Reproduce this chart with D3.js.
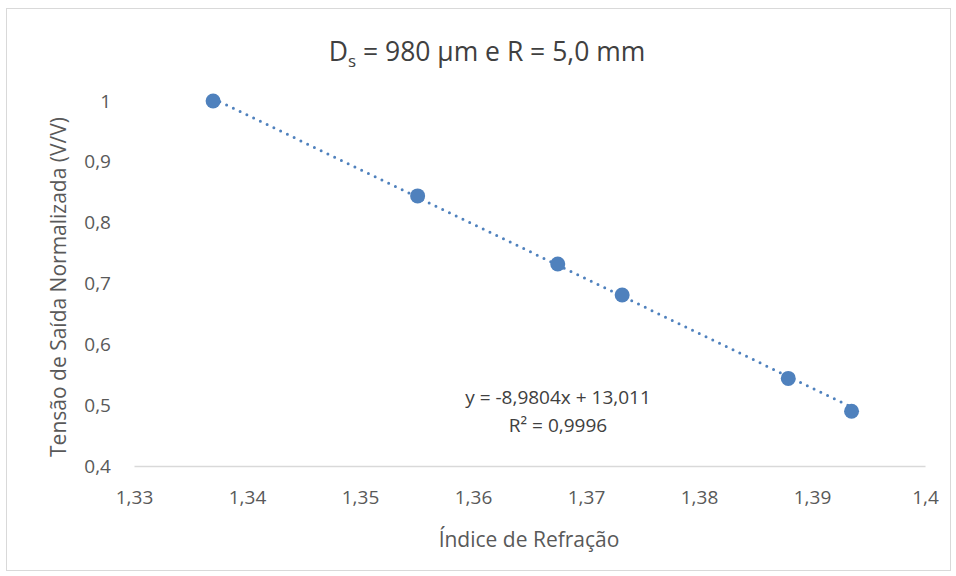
<!DOCTYPE html>
<html>
<head>
<meta charset="utf-8">
<script src="https://cdn.jsdelivr.net/npm/d3@7"></script>
<style>
  body { margin: 0; background: #fff; }
  text { font-family: "Open Sans", Lato, sans-serif; }
</style>
</head>
<body>
<div id="chart"></div>
<script>
"use strict";

// Data
var indices = [1.337, 1.3551, 1.3675, 1.3732, 1.3879, 1.3935];
var tensoes = [1.0, 0.844, 0.732, 0.681, 0.544, 0.490];
var xTicks = [1.33, 1.34, 1.35, 1.36, 1.37, 1.38, 1.39, 1.4];
var yTicks = [0.4, 0.5, 0.6, 0.7, 0.8, 0.9, 1];
// Trendline y = a*x + b
var trendSlope = -8.9804;
var trendIntercept = 13.011;
var trendLabels = ["y = -8,9804x + 13,011", "R² = 0,9996"];

var W = 956, H = 576;
var margin = { top: 101, right: 31, bottom: 110, left: 134 },
    width = W - margin.left - margin.right,
    height = H - margin.top - margin.bottom;

var svg = d3.select("#chart").append("svg")
  .attr("width", W).attr("height", H);

// chart border
svg.append("rect")
  .attr("x", 6.5).attr("y", 8.5)
  .attr("width", 944).attr("height", 562)
  .attr("fill", "#fff").attr("stroke", "#d9d9d9");

var g = svg.append("g")
  .attr("transform", "translate(" + margin.left + "," + margin.top + ")");

var x = d3.scaleLinear().domain([1.33, 1.4]).range([0, width]);
var y = d3.scaleLinear().domain([0.4, 1]).range([height, 0]);

var fmt = function (d) { return String(d).replace(".", ","); };

// X axis
var xAxis = g.append("g")
  .attr("transform", "translate(0," + height + ")")
  .call(d3.axisBottom(x).tickValues(xTicks).tickSize(0).tickPadding(38).tickFormat(fmt));
xAxis.select(".domain").attr("stroke", "#d9d9d9").attr("stroke-width", 1.5);
xAxis.selectAll("text").attr("fill", "#595959").attr("font-size", 19)
  .attr("dy", "0").style("font-family", "'Open Sans', Lato, sans-serif");

// Y axis
var yAxis = g.append("g")
  .call(d3.axisLeft(y).tickValues(yTicks).tickSize(0).tickPadding(23).tickFormat(fmt));
yAxis.select(".domain").remove();
yAxis.selectAll("text").attr("fill", "#595959").attr("font-size", 19)
  .style("font-family", "'Open Sans', Lato, sans-serif");

// Trendline (dotted)
var x0 = d3.min(indices), x1 = d3.max(indices);
g.append("line")
  .attr("x1", x(x0)).attr("y1", y(trendSlope * x0 + trendIntercept))
  .attr("x2", x(x1)).attr("y2", y(trendSlope * x1 + trendIntercept))
  .attr("stroke", "#4f81bd").attr("stroke-width", 3)
  .attr("stroke-linecap", "round").attr("stroke-dasharray", "0 7.5");

// Points
g.selectAll("circle.pt")
  .data(indices)
  .enter().append("circle")
  .attr("class", "pt")
  .attr("cx", function (d) { return x(d); })
  .attr("cy", function (d, i) { return y(tensoes[i]); })
  .attr("r", 7.5)
  .attr("fill", "#4f81bd");

// Trendline label
g.selectAll("text.eq")
  .data(trendLabels)
  .enter().append("text")
  .attr("class", "eq")
  .attr("x", 424).attr("y", function (d, i) { return 303 + i * 28; })
  .attr("text-anchor", "middle")
  .attr("fill", "#404040").attr("font-size", 19)
  .text(function (d) { return d; });

// Title
var title = svg.append("text")
  .attr("x", 487).attr("y", 61)
  .attr("text-anchor", "middle")
  .attr("fill", "#404040").attr("font-size", 26.5);
title.append("tspan").text("D");
title.append("tspan").attr("font-size", 17).attr("dy", 6).text("s");
title.append("tspan").attr("dy", -6).text(" = 980 µm e R = 5,0 mm");

// Axis titles
svg.append("text")
  .attr("x", 529).attr("y", 547)
  .attr("text-anchor", "middle")
  .attr("fill", "#595959").attr("font-size", 21)
  .text("Índice de Refração");

svg.append("text")
  .attr("transform", "translate(66,287) rotate(-90)")
  .attr("text-anchor", "middle")
  .attr("fill", "#595959").attr("font-size", 21)
  .text("Tensão de Saída Normalizada (V/V)");
</script>
</body>
</html>
